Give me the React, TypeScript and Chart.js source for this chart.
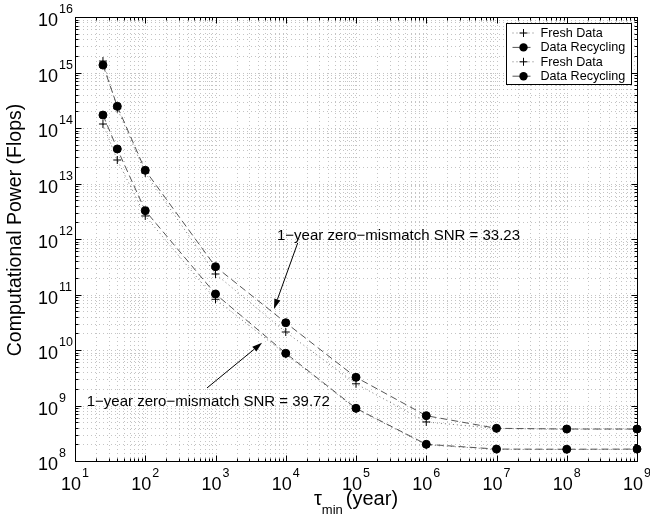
import React, { useEffect, useRef } from 'react';
import { Chart, registerables } from 'chart.js';

Chart.register(...registerables);

// ---- data ----
const tauMin = [25, 40, 100, 1e3, 1e4, 1e5, 1e6, 1e7, 1e8, 1e9];
const freshA = [1.61e15, 2.23e14, 1.55e13, 2.34e11, 2.11e10, 2.46e9, 5.05e8, 3.85e8, 3.75e8, 3.75e8];
const recycA = [1.36e15, 2.46e14, 1.73e13, 3.17e11, 3.1e10, 3.22e9, 6.55e8, 3.88e8, 3.77e8, 3.77e8];
const freshB = [1.18e14, 2.65e13, 2.6e12, 8.2e10, 8.4e9, 8.7e8, 1.95e8, 1.62e8, 1.61e8, 1.62e8];
const recycB = [1.71e14, 4.19e13, 3.24e12, 1.02e11, 8.73e9, 8.9e8, 2.0e8, 1.64e8, 1.63e8, 1.64e8];
const seriesLabels = ['Fresh Data', 'Data Recycling', 'Fresh Data', 'Data Recycling'];

const xExponents = [1, 2, 3, 4, 5, 6, 7, 8, 9];
const yExponents = [8, 9, 10, 11, 12, 13, 14, 15, 16];

const xTitleSymbol = 'τ';
const xTitleSub = 'min';
const xTitleRest = '(year)';
const yTitle = 'Computational Power (Flops)';

const annotationTexts = ['1−year zero−mismatch SNR = 33.23', '1−year zero−mismatch SNR = 39.72'];
const annotationTextAt = [[7.5e3, 9.6e11], [14.7, 9.8e8]];
const arrowTails = [[1.48e4, 8.5e11], [757, 2.07e9]];
const arrowHeads = [[6.8e3, 5.5e10], [4.6e3, 1.35e10]];

const FONT = "'Liberation Sans', Arial, Helvetica, sans-serif";

const toXY = (xs: number[], ys: number[]) => xs.map((x, i) => ({ x, y: ys[i] }));

const freshStyle = {
  pointStyle: 'cross',
  pointRadius: 4,
  pointBorderColor: '#000',
  pointBackgroundColor: '#000',
  pointBorderWidth: 1,
  borderColor: '#777',
  borderWidth: 1,
  borderDash: [1, 3],
  showLine: true,
  clip: false as any,
  order: 2,
};
const recycStyle = {
  pointStyle: 'circle',
  pointRadius: 4,
  pointBorderColor: '#000',
  pointBackgroundColor: '#000',
  pointBorderWidth: 1,
  borderColor: '#555',
  borderWidth: 1,
  borderDash: [7, 4],
  showLine: true,
  clip: false as any,
  order: 1,
};

const decorPlugin = {
  id: 'decor',
  beforeDatasetsDraw(chart: any) {
    const { ctx, chartArea: a, scales } = chart;
    const x = scales.x, y = scales.y;
    ctx.save();
    ctx.strokeStyle = '#c4c4c4';
    ctx.lineWidth = 1;
    ctx.setLineDash([1, 3]);
    const x0 = xExponents[0], x1 = xExponents[xExponents.length - 1];
    for (let e = x0; e < x1; e++) {
      for (let m = 1; m <= 9; m++) {
        if (e === x0 && m === 1) continue;
        const px = Math.round(x.getPixelForValue(m * Math.pow(10, e))) + 0.5;
        ctx.beginPath();
        ctx.moveTo(px, a.top);
        ctx.lineTo(px, a.bottom);
        ctx.stroke();
      }
    }
    const y0 = yExponents[0], y1 = yExponents[yExponents.length - 1];
    for (let e = y0; e < y1; e++) {
      for (let m = 1; m <= 9; m++) {
        if (e === y0 && m === 1) continue;
        const py = Math.round(y.getPixelForValue(m * Math.pow(10, e))) + 0.5;
        ctx.beginPath();
        ctx.moveTo(a.left, py);
        ctx.lineTo(a.right, py);
        ctx.stroke();
      }
    }
    ctx.restore();
  },
  afterDraw(chart: any) {
    const { ctx, chartArea: a, scales } = chart;
    const x = scales.x, y = scales.y;
    ctx.save();
    ctx.setLineDash([]);
    ctx.strokeStyle = '#000';
    ctx.fillStyle = '#000';
    ctx.lineWidth = 1;
    const L = Math.round(a.left) + 0.5, R = Math.round(a.right) + 0.5;
    const T = Math.round(a.top) + 0.5, B = Math.round(a.bottom) + 0.5;
    ctx.strokeRect(L, T, R - L, B - T);

    // ticks (inward, both sides)
    const x0 = xExponents[0], x1 = xExponents[xExponents.length - 1];
    ctx.beginPath();
    for (let e = x0; e <= x1; e++) {
      for (let m = 1; m <= 9; m++) {
        if (e === x1 && m > 1) break;
        const px = Math.round(x.getPixelForValue(m * Math.pow(10, e))) + 0.5;
        const len = m === 1 ? 6 : 3;
        ctx.moveTo(px, B); ctx.lineTo(px, B - len);
        ctx.moveTo(px, T); ctx.lineTo(px, T + len);
      }
    }
    const y0 = yExponents[0], y1 = yExponents[yExponents.length - 1];
    for (let e = y0; e <= y1; e++) {
      for (let m = 1; m <= 9; m++) {
        if (e === y1 && m > 1) break;
        const py = Math.round(y.getPixelForValue(m * Math.pow(10, e))) + 0.5;
        const len = m === 1 ? 6 : 3;
        ctx.moveTo(L, py); ctx.lineTo(L + len, py);
        ctx.moveTo(R, py); ctx.lineTo(R - len, py);
      }
    }
    ctx.stroke();

    // tick labels
    const baseFont = `18px ${FONT}`;
    const expFont = `12.5px ${FONT}`;
    ctx.textBaseline = 'alphabetic';
    ctx.textAlign = 'left';
    for (const e of xExponents) {
      const px = x.getPixelForValue(Math.pow(10, e));
      ctx.font = baseFont;
      const wb = ctx.measureText('10').width;
      ctx.font = expFont;
      const we = ctx.measureText(String(e)).width;
      const sx = px - (wb + we + 1) / 2;
      ctx.font = baseFont;
      ctx.fillText('10', sx, a.bottom + 29);
      ctx.font = expFont;
      ctx.fillText(String(e), sx + wb + 1, a.bottom + 16);
    }
    for (const e of yExponents) {
      const py = y.getPixelForValue(Math.pow(10, e));
      ctx.font = baseFont;
      ctx.textAlign = 'right';
      ctx.fillText('10', a.left - 17, py + 9);
      ctx.font = expFont;
      ctx.textAlign = 'left';
      ctx.fillText(String(e), a.left - 16, py - 4);
    }

    // x title
    const mainF = `20px ${FONT}`;
    const subF = `13px ${FONT}`;
    ctx.font = mainF;
    const wt = ctx.measureText(xTitleSymbol).width;
    const wr = ctx.measureText(xTitleRest).width;
    ctx.font = subF;
    const ws = ctx.measureText(xTitleSub).width;
    const gap = 3;
    const total = wt + ws + gap + wr;
    let cx = (a.left + a.right) / 2 - total / 2;
    ctx.textAlign = 'left';
    ctx.font = mainF;
    ctx.fillText(xTitleSymbol, cx, a.bottom + 44);
    cx += wt;
    ctx.font = subF;
    ctx.fillText(xTitleSub, cx, a.bottom + 53);
    cx += ws + gap;
    ctx.font = mainF;
    ctx.fillText(xTitleRest, cx, a.bottom + 44);

    // y title
    ctx.save();
    ctx.translate(16, (a.top + a.bottom) / 2 - 9);
    ctx.rotate(-Math.PI / 2);
    ctx.font = `19.5px ${FONT}`;
    ctx.textAlign = 'center';
    ctx.textBaseline = 'middle';
    ctx.fillText(yTitle, 0, 0);
    ctx.restore();

    // annotations
    ctx.font = `15px ${FONT}`;
    ctx.textAlign = 'left';
    ctx.textBaseline = 'alphabetic';
    annotationTexts.forEach((t, i) => {
      const tx = x.getPixelForValue(annotationTextAt[i][0]);
      const ty = y.getPixelForValue(annotationTextAt[i][1]);
      ctx.fillText(t, tx, ty);
      const ax = x.getPixelForValue(arrowTails[i][0]);
      const ay = y.getPixelForValue(arrowTails[i][1]);
      const hx = x.getPixelForValue(arrowHeads[i][0]);
      const hy = y.getPixelForValue(arrowHeads[i][1]);
      const ang = Math.atan2(hy - ay, hx - ax);
      const hl = 10, hw = 3.2;
      const bx = hx - hl * Math.cos(ang), by = hy - hl * Math.sin(ang);
      ctx.beginPath();
      ctx.moveTo(ax, ay);
      ctx.lineTo(bx, by);
      ctx.stroke();
      ctx.beginPath();
      ctx.moveTo(hx, hy);
      ctx.lineTo(bx + hw * Math.sin(ang), by - hw * Math.cos(ang));
      ctx.lineTo(bx - hw * Math.sin(ang), by + hw * Math.cos(ang));
      ctx.closePath();
      ctx.fill();
    });

    // legend
    const lw = 125, lh = 61;
    const lx = Math.round(a.right - 6 - lw) + 0.5;
    const ly = Math.round(a.top + 6) + 0.5;
    ctx.fillStyle = '#fff';
    ctx.fillRect(lx, ly, lw, lh);
    ctx.strokeStyle = '#000';
    ctx.strokeRect(lx, ly, lw, lh);
    ctx.font = `12.6px ${FONT}`;
    ctx.textBaseline = 'middle';
    chart.data.datasets.forEach((ds: any, i: number) => {
      const ry = ly + 9.5 + i * 14.4;
      ctx.save();
      ctx.strokeStyle = ds.borderColor;
      ctx.setLineDash(ds.borderDash);
      ctx.beginPath();
      ctx.moveTo(lx + 6, ry);
      ctx.lineTo(lx + 28, ry);
      ctx.stroke();
      ctx.restore();
      const mx = lx + 17;
      ctx.fillStyle = '#000';
      ctx.strokeStyle = '#000';
      ctx.setLineDash([]);
      if (ds.pointStyle === 'circle') {
        ctx.beginPath();
        ctx.arc(mx, ry, 4.2, 0, Math.PI * 2);
        ctx.fill();
      } else {
        ctx.beginPath();
        ctx.moveTo(mx - 4, ry); ctx.lineTo(mx + 4, ry);
        ctx.moveTo(mx, ry - 4); ctx.lineTo(mx, ry + 4);
        ctx.stroke();
      }
      ctx.fillText(ds.label, lx + 34, ry + 0.5);
    });
    ctx.restore();
  },
};

export default function App() {
  const ref = useRef<HTMLCanvasElement | null>(null);
  useEffect(() => {
    document.body.style.margin = '0';
    const canvas = ref.current;
    if (!canvas) return;
    const chart = new Chart(canvas, {
      type: 'scatter',
      data: {
        datasets: [
          { label: seriesLabels[0], data: toXY(tauMin, freshA), ...freshStyle },
          { label: seriesLabels[1], data: toXY(tauMin, recycA), ...recycStyle },
          { label: seriesLabels[2], data: toXY(tauMin, freshB), ...freshStyle },
          { label: seriesLabels[3], data: toXY(tauMin, recycB), ...recycStyle },
        ] as any,
      },
      options: {
        animation: false,
        responsive: false,
        maintainAspectRatio: false,
        layout: { padding: { left: 75, right: 13, top: 17, bottom: 55 } },
        plugins: { legend: { display: false }, tooltip: { enabled: false } },
        events: [],
        scales: {
          x: { type: 'logarithmic', min: Math.pow(10, xExponents[0]), max: Math.pow(10, xExponents[xExponents.length - 1]), display: false },
          y: { type: 'logarithmic', min: Math.pow(10, yExponents[0]), max: Math.pow(10, yExponents[yExponents.length - 1]), display: false },
        },
      },
      plugins: [decorPlugin],
    } as any);
    return () => chart.destroy();
  }, []);
  return (
    <div style={{ width: 650, height: 516, background: '#fff' }}>
      <canvas ref={ref} width={650} height={516} style={{ display: 'block' }} />
    </div>
  );
}
